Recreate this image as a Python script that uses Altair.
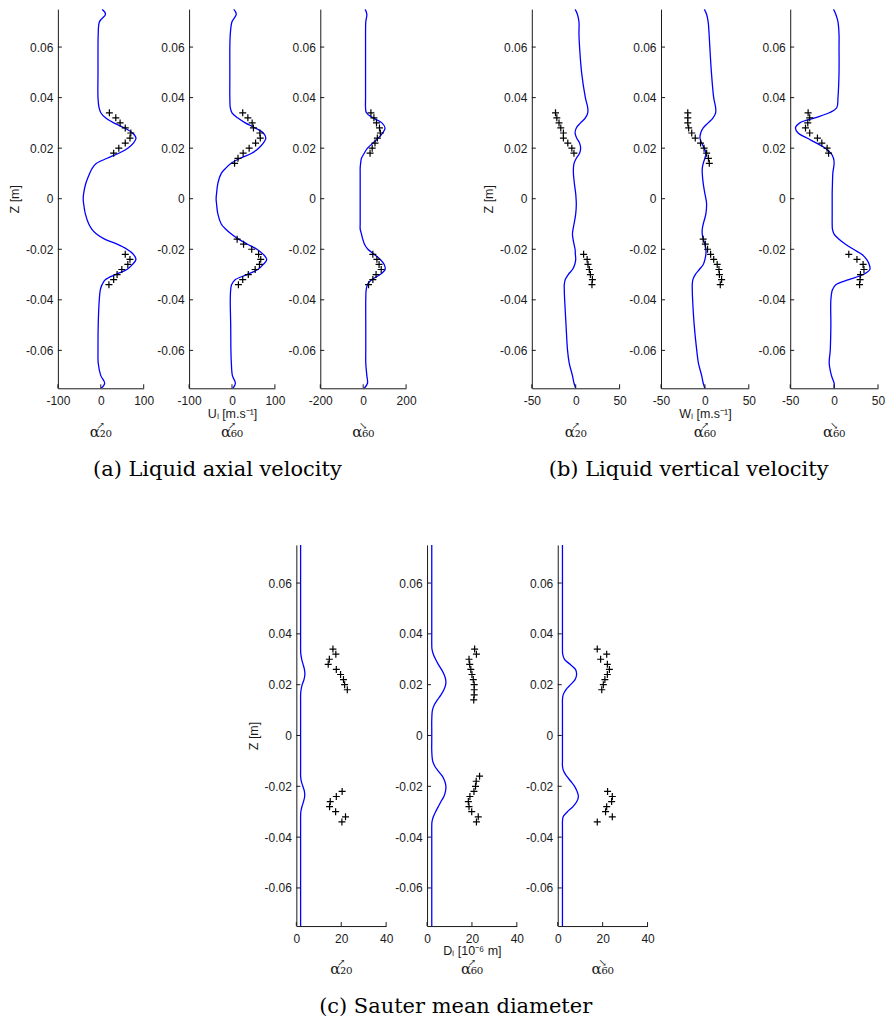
import altair as alt
import pandas as pd

# common z grid for the model curves (m)
Z = [0.075, 0.073, 0.070, 0.065, 0.060, 0.050, 0.040, 0.036, 0.034, 0.032,
     0.030, 0.028, 0.026, 0.024, 0.022, 0.020, 0.018, 0.016, 0.014, 0.012,
     0.010, 0.006, 0.002, 0.000, -0.002, -0.006, -0.010, -0.012, -0.014, -0.016,
     -0.018, -0.020, -0.022, -0.024, -0.026, -0.028, -0.030, -0.032, -0.034, -0.036,
     -0.040, -0.050, -0.060, -0.065, -0.070, -0.073, -0.075]

# (a) liquid axial velocity, model curves
A1_LINE = [3, 11, -3, -6, -6.5, -6.5, -6.5, -4, 0, 11,
           30, 55, 74, 82, 76, 63, 42, 15, -10, -20,
           -26, -35, -40, -41, -40, -36, -28, -21, -10, 9,
           38, 61, 76, 82, 74, 61, 34, 11, 3, -1,
           -3.5, -6, -6.5, -6, 0, 9, 1]
A2_LINE = [4, 10, 0, -4, -5, -5, -5, -4, 0, 13,
           31, 54, 73, 79, 73, 62, 46, 19, -2, -15,
           -25, -33, -36, -37, -36, -33, -25, -15, -1.5, 15,
           36, 58, 73, 81, 73, 60, 35, 8, -1, -3,
           -4, -3, -2.5, -1.5, 1, 8, 2]
A3_LINE = [9, 17, 12, 11, 11, 11, 11, 11, 15, 45,
           87, 102, 91, 71, 45, 20, 5, -8, -12, -14,
           -14, -14, -14, -14, -14, -14, -14, -14, -8, -2,
           6, 22, 51, 79, 98, 102, 79, 40, 20, 14,
           12, 12, 12, 12, 17, 20, 5]
# (b) liquid vertical velocity, model curves
B1_LINE = [-0.7, 1.9, 3.7, 3.7, 4.4, 6.7, 11, 13.7, 13.7, 11,
           5.6, 0.7, -0.7, 1.1, 4.4, 5.6, 4.4, 0.7, -1.9, -2.6,
           -2.6, -1.5, 0, 0.4, 0.7, 0, -1.9, -3, -3.7, -3,
           -1.9, -0.7, -0.4, 0, -1.1, -3.7, -8.5, -11.9, -13, -13,
           -12.6, -11, -9.3, -7.4, -3.7, -1.9, 0]
B2_LINE = [-0.7, 1.9, 3.7, 4.8, 5.6, 7.4, 10, 12.2, 12.2, 9.3,
           3.7, -1.9, -4.8, -5.6, -3.7, -0.7, 1.1, 0, -1.9, -3,
           -3, -1.9, 0, 1.1, 1.9, 1.1, -1.9, -3, -3, -1.9,
           0, 1.1, 1.1, 0, -1.9, -6.3, -11, -13.7, -14.4, -14.4,
           -14, -12.2, -9.3, -7.4, -3.7, -1.9, 0]
B3_LINE = [-0.7, 1.9, 4.4, 5.6, 5.6, 5.6, 4.4, 3, -5.6, -22,
           -39, -44, -41, -31, -20, -10, -3.7, -0.7, 0, -0.7,
           -1.5, -1.9, -2.2, -2.2, -2.2, -2.2, -2.2, -1.9, 0, 5.6,
           13, 22, 31.5, 37, 40, 40.7, 33, 16.7, 1.9, -1.9,
           -3.7, -3.7, -4.4, -5.6, -3, 0, 0]
# (c) Sauter mean diameter, model curves
C1_LINE = [1.9, 1.9, 1.9, 1.9, 1.9, 1.9, 1.9, 1.9, 1.9, 2.0,
           2.4, 3.0, 3.6, 3.8, 3.4, 2.6, 2.1, 1.9, 1.9, 1.9,
           1.9, 1.9, 1.9, 1.9, 1.9, 1.9, 1.9, 1.9, 1.9, 1.9,
           2.2, 2.9, 3.6, 3.7, 3.2, 2.5, 2.0, 1.9, 1.9, 1.9,
           1.9, 1.9, 1.9, 1.9, 1.9, 1.9, 1.9]
C2_LINE = [2.1, 2.1, 2.1, 2.1, 2.1, 2.1, 2.1, 2.1, 2.2, 2.8,
           3.8, 5.0, 6.4, 7.6, 8.3, 8.3, 7.5, 6.2, 4.6, 3.2,
           2.4, 2.1, 2.1, 2.1, 2.1, 2.1, 2.5, 3.4, 5.0, 6.8,
           7.9, 8.4, 8.2, 7.5, 6.2, 5.0, 3.8, 2.8, 2.2, 2.1,
           2.1, 2.1, 2.1, 2.1, 2.1, 2.1, 2.1]
C3_LINE = [2.1, 2.1, 2.1, 2.1, 2.1, 2.1, 2.1, 2.1, 2.1, 2.2,
           3.0, 5.5, 7.9, 8.4, 7.7, 5.7, 3.6, 2.4, 2.1, 2.1,
           2.1, 2.1, 2.1, 2.1, 2.1, 2.1, 2.1, 2.1, 2.6, 4.0,
           5.8, 7.5, 8.6, 9.2, 8.5, 6.8, 4.3, 2.4, 2.1, 2.1,
           2.1, 2.1, 2.1, 2.1, 2.1, 2.1, 2.1]

# experimental points: z positions
Z_UP9 = [0.034, 0.032, 0.030, 0.028, 0.026, 0.024, 0.022, 0.020, 0.018]
Z_UP11 = Z_UP9 + [0.016, 0.014]
Z_LO7 = [-0.022, -0.024, -0.026, -0.028, -0.030, -0.032, -0.034]
Z_LO10 = [-0.016, -0.018, -0.020] + Z_LO7

A1_UP = [20, 35, 45, 57, 70, 68, 57, 42, 30]
A1_LO = [57, 68, 63, 49, 38, 30, 19]
A2_UP = [25, 37, 47, 50, 65, 66, 55, 40, 26, 14, 6]
A2_LO = [12, 27, 46, 62, 67, 64, 54, 38, 25, 15]
A3_UP = [36, 50, 62, 76, 80, 66, 55, 42, 32]
A3_LO = [45, 64, 74, 84, 60, 45, 25]
B1_UP = [-23, -21.5, -19, -17, -14, -14, -9, -4.4, -2]
B1_LO = [9, 13, 14, 15.5, 16.7, 19, 18.5]
B2_UP = [-19.5, -19.5, -19.5, -18.5, -15, -11, -5, -1, 2, 4, 5]
B2_LO = [-2, 0.5, 3, 6.5, 10, 14, 16, 16.5, 19, 17.5]
B3_UP = [-29.6, -27.8, -30, -32.6, -27.8, -19, -14, -8, -6.3]
B3_LO = [16.7, 26, 33, 34, 30, 29.6, 29]
C1_UP = [16.3, 17.6, 14.7, 14.2, 17.8, 19.7, 21, 21.5, 22.7]
C1_LO = [20.4, 17.8, 15.1, 14.8, 17.5, 21.9, 20.3]
C2_UP = [21.2, 22, 18.7, 19, 19.5, 20, 20.6, 21, 21, 21, 20.8]
C2_LO = [23.4, 21.9, 21.6, 20.9, 19.1, 18.4, 18.7, 19.9, 22.8, 22]
C3_UP = [17.6, 21.8, 19.1, 22.1, 23, 22.1, 21, 20.3, 19.6]
C3_LO = [22.2, 24.3, 24, 21.8, 21.3, 24.3, 17.6]

Y_TICKS = [-0.06, -0.04, -0.02, 0, 0.02, 0.04, 0.06]
Z_DOMAIN = [-0.075, 0.075]

BLUE = "#0000ff"
INK = "#1a1a1a"
SANS = "Liberation Sans"
SERIF = "DejaVu Serif"
H1, H2 = 380, 382
LABEL_EXPR = "replace(format(datum.value, '~g'), '\u2212', '-')"


def panel(line_v, pz, pv, xdom, xticks, w, h, ytitle, xtitle, arrow, alpha):
    xs = alt.Scale(domain=xdom, nice=False, zero=False)
    ys = alt.Scale(domain=Z_DOMAIN, nice=False, zero=False)
    xax = alt.Axis(values=xticks, labelExpr=LABEL_EXPR, ticks=False, tickSize=0,
                   grid=False, domainColor=INK, domainWidth=1, labelFont=SANS,
                   labelFontSize=12, labelColor=INK, labelPadding=7, labelFlush=False,
                   labelOverlap=False, title=xtitle, titleFont=SANS, titleFontSize=12.5,
                   titleFontWeight="normal", titleColor=INK, titlePadding=1)
    yax = alt.Axis(values=Y_TICKS, labelExpr=LABEL_EXPR, ticks=False, tickSize=0,
                   grid=False, domainColor=INK, domainWidth=1, labelFont=SANS,
                   labelFontSize=12, labelColor=INK, labelPadding=5, labelOverlap=False,
                   title=ytitle, titleFont=SANS, titleFontSize=12.5,
                   titleFontWeight="normal", titleColor=INK, titlePadding=4)
    X = alt.X("v:Q", scale=xs, axis=xax)
    Y = alt.Y("z:Q", scale=ys, axis=yax)

    line = alt.Chart(pd.DataFrame({"z": Z, "v": line_v})).mark_line(
        color=BLUE, strokeWidth=1.3, interpolate="catmull-rom", clip=True
    ).encode(x=X, y=Y, order=alt.Order("z:Q"))
    pts = alt.Chart(pd.DataFrame({"z": pz, "v": pv})).mark_point(
        shape="M-1,0L1,0M0,-1L0,1", size=49, filled=False, color="black",
        strokeWidth=1.2, opacity=1
    ).encode(x=X, y=Y)
    yt = alt.Chart(pd.DataFrame({"z": Y_TICKS})).mark_rule(color=INK, strokeWidth=1).encode(
        y=Y, x=alt.value(0), x2=alt.value(4))
    xt = alt.Chart(pd.DataFrame({"v": xticks})).mark_rule(color=INK, strokeWidth=1).encode(
        x=X, y=alt.value(h), y2=alt.value(h - 4))

    return alt.layer(line, pts, yt, xt).properties(
        width=w, height=h,
        title=alt.TitleParams(
            text="\u2003" + arrow, subtitle=alpha, orient="bottom", anchor="middle",
            frame="group", font=SERIF, fontSize=10, fontWeight="normal", color=INK,
            subtitleFont=SERIF, subtitleFontSize=15,
            subtitleColor=INK, subtitlePadding=-6, offset=1,
        ),
    )


def caption(text):
    return alt.TitleParams(text=text, orient="bottom", anchor="middle", font=SERIF,
                           fontSize=21, fontWeight="normal", color="black", offset=19, dx=5)


NB = "\u00a0"
UP, DN = "\u2197", "\u2198"
a20, a60 = "\u03b1\u2082\u2080", "\u03b1\u2086\u2080"

group_a = alt.hconcat(
    panel(A1_LINE, Z_UP9 + Z_LO7, A1_UP + A1_LO, [-100, 100], [-100, 0, 100], 86, H1, "Z [m]", NB, UP, a20),
    panel(A2_LINE, Z_UP11 + Z_LO10, A2_UP + A2_LO, [-100, 100], [-100, 0, 100], 86, H1, None, "U\u2097 [m.s\u207b\u00b9]", UP, a60),
    panel(A3_LINE, Z_UP9 + Z_LO7, A3_UP + A3_LO, [-200, 200], [-200, 0, 200], 86, H1, None, NB, DN, a60),
    spacing=45.5, bounds="flush", title=caption("(a) Liquid axial velocity"),
)
group_b = alt.hconcat(
    panel(B1_LINE, Z_UP9 + Z_LO7, B1_UP + B1_LO, [-50, 50], [-50, 0, 50], 88, H1, "Z [m]", NB, UP, a20),
    panel(B2_LINE, Z_UP11 + Z_LO10, B2_UP + B2_LO, [-50, 50], [-50, 0, 50], 88, H1, None, "W\u2097 [m.s\u207b\u00b9]", UP, a60),
    panel(B3_LINE, Z_UP9 + Z_LO7, B3_UP + B3_LO, [-50, 50], [-50, 0, 50], 88, H1, None, NB, DN, a60),
    spacing=41.5, bounds="flush", title=caption("(b) Liquid vertical velocity"),
)
group_c = alt.hconcat(
    panel(C1_LINE, Z_UP9 + Z_LO7, C1_UP + C1_LO, [0, 40], [0, 20, 40], 90, H2, "Z [m]", NB, UP, a20),
    panel(C2_LINE, Z_UP11 + Z_LO10, C2_UP + C2_LO, [0, 40], [0, 20, 40], 90, H2, None, "D\u2097 [10\u207b\u2076 m]", UP, a60),
    panel(C3_LINE, Z_UP9 + Z_LO7, C3_UP + C3_LO, [0, 40], [0, 20, 40], 90, H2, None, NB, DN, a60),
    spacing=41, bounds="flush", title=caption("(c) Sauter mean diameter"),
)

spacer = alt.Chart(pd.DataFrame({"s": [0]})).mark_point(opacity=0).encode(
    x=alt.value(0), y=alt.value(0)).properties(width=189, height=10)

row1 = alt.hconcat(group_a, group_b, spacing=65)
row2 = alt.hconcat(spacer, group_c, spacing=0)
chart = alt.vconcat(row1, row2, spacing=62).properties(
    padding={"left": 0, "top": 0, "right": 0, "bottom": 0}
).configure_view(stroke=None)

chart.save("out.html", embed_options={"renderer": "svg", "actions": False})
